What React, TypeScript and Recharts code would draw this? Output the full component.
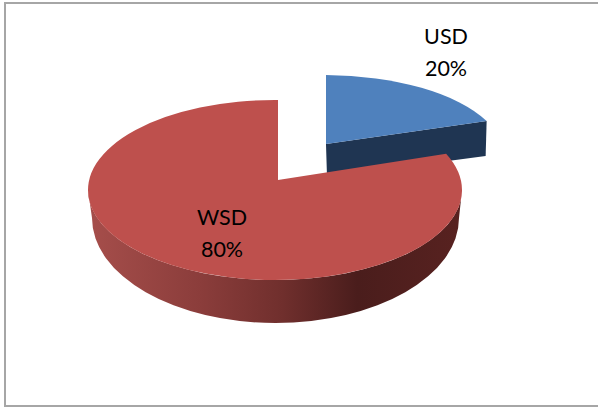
import React from "react";
import { PieChart, Pie } from "recharts";

const categories = ["USD", "WSD"];
const shares = [20, 80];

const chartData = categories.map((name, i) => ({ name, value: shares[i] }));

// Look of each slice: the 3D ellipse it lies on, and the apex of the wedge.
const looks = [
  { ecx: 323, ecy: 154, rx: 180, ry: 79, ax: 326, ay: 144, depth: 33, top: "#4f81bd", labelX: 446, labelY: 37 },
  { ecx: 275, ecy: 190, rx: 187, ry: 90, ax: 278, ay: 180, depth: 43, top: "#be504d", labelX: 222, labelY: 218 },
];

const rim = (l: any, deg: number) => {
  const rad = (deg * Math.PI) / 180;
  const dx = Math.cos(rad) * l.rx;
  const dy = -Math.sin(rad) * l.ry;
  const ox = (l.ax - l.ecx) / l.rx;
  const oy = (l.ay - l.ecy) / l.ry;
  const ux = dx / l.rx;
  const uy = dy / l.ry;
  const a = ux * ux + uy * uy;
  const b = 2 * (ox * ux + oy * uy);
  const c = ox * ox + oy * oy - 1;
  const s = (-b + Math.sqrt(b * b - 4 * a * c)) / (2 * a);
  return { x: l.ax + dx * s, y: l.ay + dy * s };
};

const Slice = (props: any) => {
  const idx = categories.indexOf(props.payload?.name ?? props.name);
  const l = looks[idx];
  const p0 = rim(l, props.startAngle);
  const p1 = rim(l, props.endAngle);
  const large = Math.abs(props.endAngle - props.startAngle) > 180 ? 1 : 0;
  const face = `M${l.ax},${l.ay} L${p0.x},${p0.y} A${l.rx},${l.ry} 0 ${large} 1 ${p1.x},${p1.y} Z`;
  if (idx === 0) {
    const wall = `M${l.ax},${l.ay} L${p1.x},${p1.y} L${p1.x - 1},${p1.y + l.depth + 2} L${l.ax + 1},${l.ay + l.depth} Z`;
    return (
      <g>
        <path d={wall} fill="#1f3552" />
        <path d={face} fill={l.top} />
      </g>
    );
  }
  const left = l.ecx - l.rx;
  const right = l.ecx + l.rx;
  const wall = `M${left},${l.ecy} A${l.rx},${l.ry} 0 0 0 ${right},${l.ecy} L${right - 3},${l.ecy + l.depth - 15} A${l.rx - 3.5},${l.ry + 15} 0 0 1 ${left + 4},${l.ecy + l.depth - 15} Z`;
  return (
    <g>
      <defs>
        <linearGradient id="redWall" gradientUnits="userSpaceOnUse" x1={left} x2={right} y1="0" y2="0">
          <stop offset="0" stopColor="#a64e4b" />
          <stop offset="0.3" stopColor="#8b3d3b" />
          <stop offset="0.52" stopColor="#702f2d" />
          <stop offset="0.72" stopColor="#4a1d1c" />
          <stop offset="1" stopColor="#582220" />
        </linearGradient>
      </defs>
      <path d={wall} fill="url(#redWall)" />
      <path d={face} fill={l.top} />
    </g>
  );
};

const SliceLabel = (props: any) => {
  const i = props.index;
  const l = looks[i];
  return (
    <text x={l.labelX} y={l.labelY} textAnchor="middle" fontFamily="Lato" fontSize={21.5} fill="#000">
      <tspan x={l.labelX} dy={7}>{categories[i]}</tspan>
      <tspan x={l.labelX} dy={32}>{`${shares[i]}%`}</tspan>
    </text>
  );
};

const lineStyle: React.CSSProperties = { position: "absolute", background: "#a6a6a6" };

export default function App() {
  return (
    <div style={{ position: "absolute", left: 0, top: 0, width: 598, height: 407, background: "#fff", overflow: "hidden" }}>
      <div style={{ ...lineStyle, left: 4, top: 2, width: 594, height: 2 }} />
      <div style={{ ...lineStyle, left: 4, top: 2, width: 2, height: 405 }} />
      <div style={{ ...lineStyle, left: 4, top: 405, width: 594, height: 2 }} />
      <div style={{ position: "absolute", left: 0, top: 0 }}>
        <PieChart width={598} height={407} margin={{ top: 0, right: 0, bottom: 0, left: 0 }}>
          <Pie
            data={chartData}
            dataKey="value"
            nameKey="name"
            cx={278}
            cy={180}
            outerRadius={100}
            startAngle={90}
            endAngle={-270}
            stroke="none"
            isAnimationActive={false}
            shape={Slice}
            label={SliceLabel}
            labelLine={false}
          />
        </PieChart>
      </div>
    </div>
  );
}
